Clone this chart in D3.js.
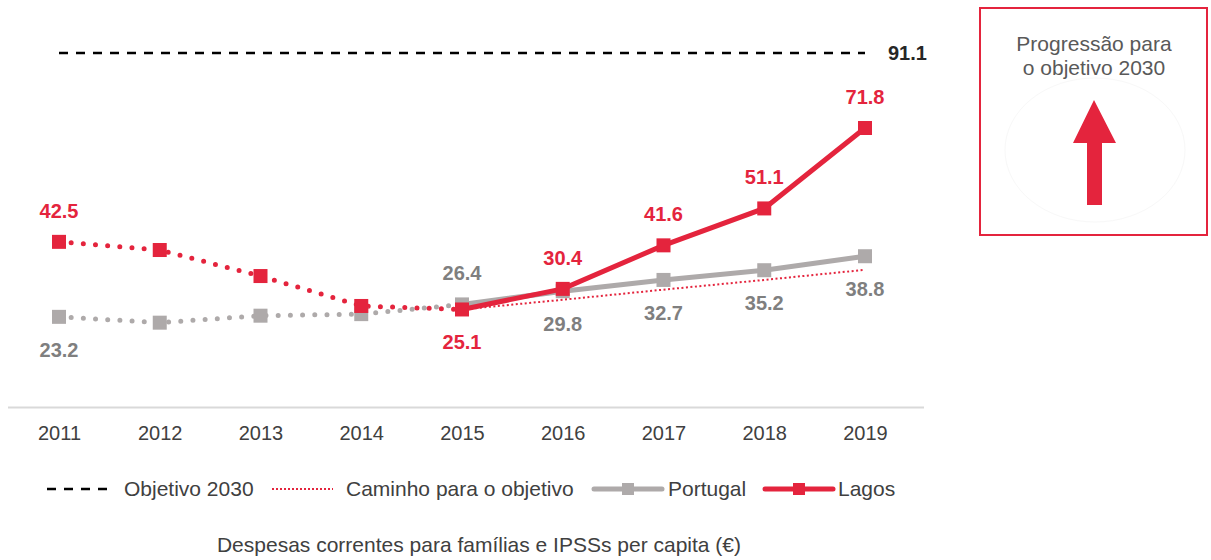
<!DOCTYPE html>
<html><head><meta charset="utf-8">
<script src="https://cdn.jsdelivr.net/npm/d3@7"></script>
<style>
html,body{margin:0;padding:0;background:#fff;}
svg{display:block;font-family:"Liberation Sans",Arial,sans-serif;}
</style></head>
<body>
<svg id="c" width="1211" height="560"></svg>
<script>
const years = ["2011","2012","2013","2014","2015","2016","2017","2018","2019"];
const portugal = [23.2, 21.7, 23.5, 23.9, 26.4, 29.8, 32.7, 35.2, 38.8];
const lagos = [42.5, 40.4, 33.7, 26.0, 25.1, 30.4, 41.6, 51.1, 71.8];
const pathYears = ["2015","2016","2017","2018","2019"];
const pathValues = [25.1, 27.6, 30.2, 32.7, 35.3];
const target = 91.1;
const portugalLabels = [23.2, null, null, null, 26.4, 29.8, 32.7, 35.2, 38.8];
const portugalLabelPos = ["below", null, null, null, "above", "below", "below", "below", "below"];
const lagosLabels = [42.5, null, null, null, 25.1, 30.4, 41.6, 51.1, 71.8];
const lagosLabelPos = ["above", null, null, null, "below", "above", "above", "above", "above"];
const legendLabels = ["Objetivo 2030", "Caminho para o objetivo", "Portugal", "Lagos"];
const caption = "Despesas correntes para famílias e IPSSs per capita (€)";
const boxText = ["Progressão para", "o objetivo 2030"];

const RED = "#e4243d", GREY = "#aeaaaa", TXT = "#404040";
const svg = d3.select("#c");
const x = d3.scalePoint().domain(years).range([59, 865]);
const y = d3.scaleLinear().domain([0, target]).range([407, 53]);

// axis
svg.append("line").attr("x1", 8).attr("x2", 924).attr("y1", 407.5).attr("y2", 407.5)
  .attr("stroke", "#d9d9d9").attr("stroke-width", 2);
const xAxis = svg.append("g").attr("transform", "translate(0,407)")
  .call(d3.axisBottom(x).tickSize(0).tickPadding(19));
xAxis.select(".domain").remove();
xAxis.selectAll("text").attr("font-size", 20).attr("fill", TXT).attr("font-family", "Liberation Sans, Arial, sans-serif");

// target line
svg.append("line").attr("x1", x("2011")).attr("x2", x("2019")).attr("y1", y(target)).attr("y2", y(target))
  .attr("stroke", "#000").attr("stroke-width", 2.5).attr("stroke-dasharray", "9 8");
svg.append("text").attr("x", x("2019") + 23).attr("y", y(target)).attr("dy", "0.35em")
  .attr("font-size", 20).attr("font-weight", "bold").attr("fill", "#262626").text(target.toFixed(1));

const line = d3.line().x(d => x(d[0])).y(d => y(d[1]));
const split = years.indexOf("2015");
function dotted(vals, color) {
  const pts = years.map((yr, i) => [yr, vals[i]]);
  svg.append("path").attr("d", line(pts.slice(0, split + 1))).attr("fill", "none")
    .attr("stroke", color).attr("stroke-width", 5).attr("stroke-linecap", "round")
    .attr("stroke-dasharray", "0 12.2");
  return pts;
}
const pPts = dotted(portugal, GREY);
const lPts = dotted(lagos, RED);
// Portugal solid
svg.append("path").attr("d", line(pPts.slice(split))).attr("fill", "none").attr("stroke", GREY).attr("stroke-width", 5);
svg.selectAll(".pm").data(pPts).enter().append("rect")
  .attr("x", d => x(d[0]) - 7).attr("y", d => y(d[1]) - 7).attr("width", 14).attr("height", 14).attr("fill", GREY);
// path to objective
svg.append("path").attr("d", line(pathYears.map((yr, i) => [yr, pathValues[i]]))).attr("fill", "none")
  .attr("stroke", RED).attr("stroke-width", 2).attr("stroke-dasharray", "2 2.5");
// Lagos solid
svg.append("path").attr("d", line(lPts.slice(split))).attr("fill", "none").attr("stroke", RED).attr("stroke-width", 5);
svg.selectAll(".lm").data(lPts).enter().append("rect")
  .attr("x", d => x(d[0]) - 7).attr("y", d => y(d[1]) - 7).attr("width", 14).attr("height", 14).attr("fill", RED);

function labels(vals, pos, color) {
  years.forEach((yr, i) => {
    if (vals[i] == null) return;
    const off = pos[i] === "above" ? -31 : 33;
    svg.append("text").attr("x", x(yr)).attr("y", y(vals[i]) + off).attr("dy", "0.35em")
      .attr("text-anchor", "middle").attr("font-size", 20).attr("font-weight", "bold")
      .attr("fill", color).text(vals[i].toFixed(1));
  });
}
labels(portugalLabels, portugalLabelPos, "#7f7f7f");
labels(lagosLabels, lagosLabelPos, RED);

// legend
const lg = svg.append("g").attr("font-size", 21).attr("fill", TXT);
const ly = 489;
lg.append("line").attr("x1", 47).attr("x2", 110).attr("y1", ly).attr("y2", ly).attr("stroke", "#000").attr("stroke-width", 2.5).attr("stroke-dasharray", "9 8");
lg.append("text").attr("x", 124).attr("y", ly).attr("dy", "0.35em").text(legendLabels[0]);
lg.append("line").attr("x1", 272).attr("x2", 333).attr("y1", ly).attr("y2", ly).attr("stroke", RED).attr("stroke-width", 2).attr("stroke-dasharray", "2 2");
lg.append("text").attr("x", 346).attr("y", ly).attr("dy", "0.35em").text(legendLabels[1]);
lg.append("line").attr("x1", 594).attr("x2", 662).attr("y1", ly).attr("y2", ly).attr("stroke", GREY).attr("stroke-width", 5).attr("stroke-linecap", "round");
lg.append("rect").attr("x", 628 - 6).attr("y", ly - 6).attr("width", 12).attr("height", 12).attr("fill", GREY);
lg.append("text").attr("x", 668).attr("y", ly).attr("dy", "0.35em").text(legendLabels[2]);
lg.append("line").attr("x1", 765).attr("x2", 833).attr("y1", ly).attr("y2", ly).attr("stroke", RED).attr("stroke-width", 5).attr("stroke-linecap", "round");
lg.append("rect").attr("x", 799 - 6).attr("y", ly - 6).attr("width", 12).attr("height", 12).attr("fill", RED);
lg.append("text").attr("x", 838).attr("y", ly).attr("dy", "0.35em").text(legendLabels[3]);

svg.append("text").attr("x", 479).attr("y", 545).attr("dy", "0.35em").attr("text-anchor", "middle")
  .attr("font-size", 21).attr("fill", TXT).text(caption);

// box
svg.append("rect").attr("x", 980).attr("y", 8).attr("width", 227).attr("height", 227)
  .attr("fill", "#fff").attr("stroke", RED).attr("stroke-width", 2);
svg.append("ellipse").attr("cx", 1095).attr("cy", 150).attr("rx", 90).attr("ry", 72).attr("fill", "none").attr("stroke", "#f8f8f8");
boxText.forEach((t, i) => svg.append("text").attr("x", 1094).attr("y", 44 + i * 24).attr("dy", "0.35em")
  .attr("text-anchor", "middle").attr("font-size", 21).attr("fill", "#595959").text(t));
svg.append("path").attr("d", "M1094,100 L1116,143 L1102,143 L1102,205 L1087,205 L1087,143 L1073,143 Z").attr("fill", RED);
</script>
</body></html>
